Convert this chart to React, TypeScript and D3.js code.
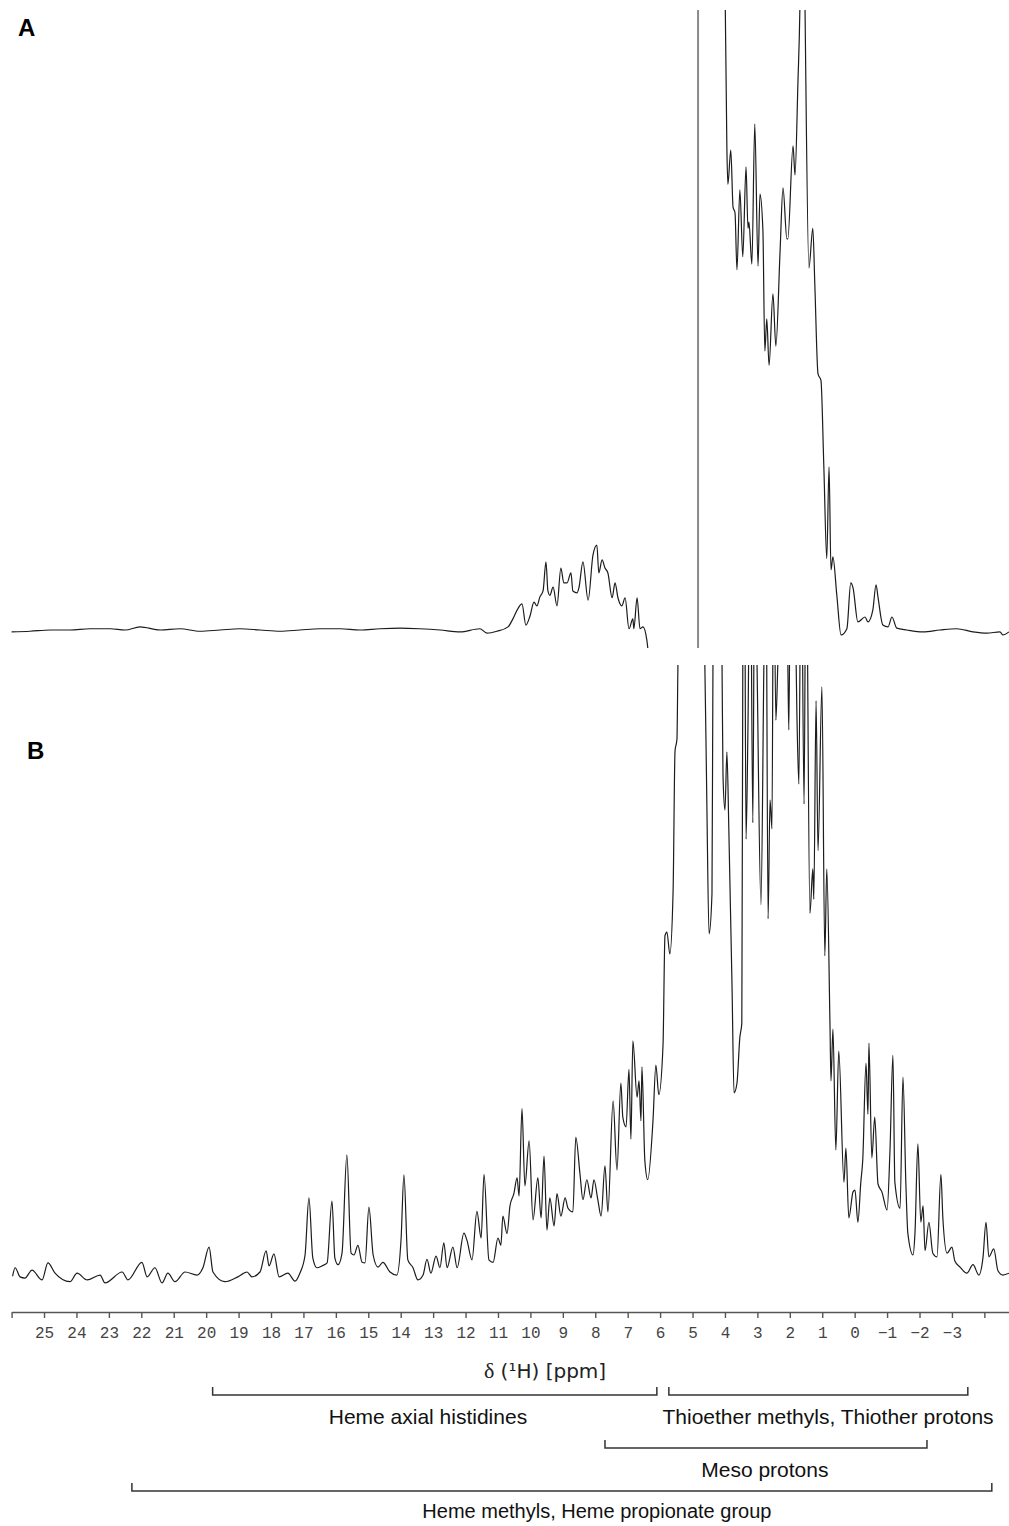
import React, { useRef, useEffect } from 'react';
import * as d3 from 'd3';

type Pt = [number, number]; // [ppm, intensity (a.u., 100 = top of panel)]

// Spectrum A, low-field side of the suppressed water line
const specALow: Pt[] = [
  [26.0, -0.3], [25.43, -0.2], [24.81, 0], [24.2, 0], [23.58, 0.2], [22.96, 0.2], [22.5, 0],
  [22.04, 0.5], [21.42, 0], [20.81, 0.2], [20.19, -0.2], [19.57, 0], [18.96, 0.2], [18.34, 0],
  [17.72, -0.2], [17.11, 0], [16.49, 0.2], [15.87, 0.2], [15.26, 0], [14.64, 0.2], [14.02, 0.3],
  [13.41, 0.2], [12.79, 0], [12.17, -0.3], [11.56, 0.2], [11.34, -0.5], [11.03, -0.2], [10.69, 0.5],
  [10.54, 1.8], [10.38, 3.5], [10.26, 4.2], [10.14, 0.8], [10.01, 2.3], [9.89, 4.5], [9.8, 3.9],
  [9.71, 5.3], [9.61, 6.3], [9.52, 11.0], [9.46, 6.3], [9.4, 5.6], [9.3, 6.9], [9.18, 3.9],
  [9.06, 10.0], [8.97, 7.6], [8.87, 7.6], [8.75, 9.2], [8.69, 6.3], [8.56, 6.0], [8.5, 6.9],
  [8.38, 11.0], [8.22, 4.8], [8.07, 12.1], [7.95, 13.7], [7.89, 9.2], [7.79, 11.3], [7.7, 10.0],
  [7.61, 9.2], [7.48, 5.2], [7.39, 7.6], [7.3, 5.2], [7.18, 3.9], [7.08, 5.2], [6.96, 0.2],
  [6.84, 1.8], [6.81, 0.2], [6.71, 5.2], [6.62, 0.2], [6.53, 0.5], [6.41, -1.6], [6.38, -2.9],
];

// Spectrum A, high-field side
const specAHigh: Pt[] = [
  [4.0, 105], [3.94, 77.4], [3.91, 71.9], [3.82, 77.4], [3.75, 68.2], [3.69, 67.3], [3.63, 58.1],
  [3.54, 71.0], [3.45, 60.2], [3.35, 74.7], [3.29, 64.8], [3.26, 65.8], [3.17, 59.0], [3.08, 81.6],
  [2.98, 58.7], [2.92, 70.3], [2.83, 64.5], [2.77, 45.0], [2.71, 50.2], [2.64, 42.7], [2.52, 54.2],
  [2.43, 45.8], [2.3, 61.1], [2.21, 71.3], [2.09, 63.1], [2.06, 63.1], [1.9, 78.1], [1.84, 73.4],
  [1.75, 88.2], [1.69, 100], [1.61, 140], [1.53, 100], [1.41, 58.4], [1.29, 64.8], [1.23, 56.0],
  [1.13, 41.3], [1.04, 40.3], [0.95, 26.3], [0.86, 11.5], [0.79, 26.3], [0.73, 9.7], [0.67, 11.8],
  [0.55, 5.6], [0.42, -0.8], [0.24, 0.2], [0.12, 7.6], [0.05, 6.8], [-0.1, 1.3], [-0.32, 2.1],
  [-0.41, 1.3], [-0.56, 3.2], [-0.66, 7.3], [-0.72, 5.3], [-0.87, 0.8], [-1.03, 0.5], [-1.15, 2.1],
  [-1.3, 0.3], [-1.61, 0], [-2.11, -0.3], [-2.63, 0], [-3.15, 0.2], [-3.65, -0.3], [-4.08, -0.5],
  [-4.48, -0.3], [-4.57, -0.8], [-4.76, -0.3],
];

// residual water line in A
const waterPpm = 4.83;
const waterRange: [number, number] = [-2.9, 100];

// Spectrum B
const specB: Pt[] = [
  [25.97, -0.7], [25.89, 0.7], [25.74, -0.8], [25.59, -1.0], [25.37, 0.3], [25.06, -1.3], [24.88, 1.5],
  [24.66, -0.2], [24.2, -1.6], [23.98, -0.2], [23.67, -1.3], [23.27, -0.5], [23.12, -1.8], [22.59, 0],
  [22.41, -1.3], [21.98, 1.6], [21.82, -0.8], [21.58, 0.7], [21.36, -1.8], [21.18, -0.2], [20.96, -1.6],
  [20.65, 0], [20.28, -0.5], [20.1, 0.7], [19.91, 4.1], [19.79, 0], [19.42, -1.6], [19.02, -0.8],
  [18.74, 0], [18.59, -0.8], [18.34, 0], [18.15, 3.5], [18.06, 1.0], [17.91, 3.0], [17.75, -0.8],
  [17.48, -0.2], [17.26, -1.5], [17.11, -0.2], [16.95, 2.8], [16.83, 12.2], [16.71, 2.3], [16.58, 0.7],
  [16.43, 1.0], [16.27, 1.5], [16.12, 11.7], [16.03, 2.3], [15.93, 1.2], [15.81, 3.1], [15.66, 19.3],
  [15.53, 3.1], [15.44, 2.8], [15.32, 4.4], [15.19, 1.6], [15.1, 1.5], [14.98, 10.7], [14.85, 2.8],
  [14.7, 0.8], [14.55, 1.6], [14.33, 0], [14.12, -0.5], [13.99, 5.3], [13.9, 16.0], [13.78, 2.0],
  [13.62, 0.7], [13.47, -1.3], [13.31, -0.5], [13.19, 2.1], [13.07, -0.2], [12.91, 2.6], [12.79, 0.7],
  [12.67, 4.8], [12.57, 0.7], [12.39, 4.1], [12.26, 0.7], [12.05, 6.4], [11.96, 5.3], [11.8, 2.0],
  [11.65, 10.0], [11.52, 5.6], [11.43, 16.1], [11.28, 2.0], [11.15, 1.6], [11.0, 5.6], [10.91, 4.4],
  [10.85, 9.2], [10.72, 6.3], [10.63, 10.9], [10.51, 12.9], [10.41, 15.5], [10.35, 12.5], [10.26, 26.9],
  [10.17, 14.2], [10.04, 21.6], [9.92, 8.6], [9.77, 15.5], [9.67, 8.9], [9.58, 19.1], [9.49, 6.9],
  [9.4, 12.2], [9.27, 7.6], [9.18, 12.9], [9.06, 9.2], [8.93, 12.2], [8.84, 10.5], [8.69, 9.9],
  [8.6, 22.2], [8.47, 16.1], [8.38, 11.9], [8.26, 15.2], [8.13, 12.2], [8.04, 15.2], [7.92, 11.9],
  [7.82, 9.2], [7.7, 17.5], [7.61, 9.9], [7.45, 28.2], [7.33, 16.8], [7.21, 31.1], [7.15, 25.5],
  [7.05, 23.9], [6.96, 33.4], [6.9, 21.9], [6.84, 38.1], [6.71, 28.8], [6.65, 31.5], [6.59, 24.9],
  [6.56, 33.8], [6.47, 18.3], [6.38, 15.2], [6.22, 24.9], [6.13, 34.1], [6.04, 29.2], [5.91, 37.4],
  [5.85, 55.4], [5.79, 56.0], [5.7, 52.4], [5.6, 62.6], [5.54, 85.8], [5.48, 87.8], [5.45, 100],
  [5.08, 160], [4.62, 100], [4.56, 77.8], [4.49, 55.7], [4.4, 62.3], [4.37, 100], [4.22, 140],
  [4.09, 100], [4.06, 81.7], [4.0, 76.1], [3.94, 85.7], [3.88, 72.8], [3.78, 46.5], [3.72, 29.5],
  [3.63, 31.1], [3.54, 38.7], [3.48, 41.0], [3.45, 100], [3.4, 125], [3.35, 71.3], [3.29, 90.0],
  [3.22, 125], [3.14, 74.0], [3.08, 125], [3.01, 100], [2.89, 60.5], [2.8, 100], [2.74, 125],
  [2.67, 58.2], [2.61, 77.8], [2.55, 73.0], [2.5, 125], [2.43, 90.9], [2.37, 100], [2.21, 130],
  [2.06, 100], [2.03, 89.3], [1.97, 125], [1.85, 115], [1.78, 91.6], [1.72, 80.4], [1.65, 125],
  [1.56, 77.1], [1.5, 125], [1.38, 59.1], [1.29, 66.4], [1.26, 61.4], [1.19, 94.1], [1.13, 69.4],
  [1.01, 96.4], [0.92, 52.1], [0.86, 66.4], [0.76, 40.4], [0.73, 31.5], [0.67, 40.0], [0.58, 20.1],
  [0.49, 36.4], [0.33, 14.8], [0.27, 20.4], [0.18, 8.9], [0.05, 13.2], [-0.01, 13.5], [-0.1, 8.2],
  [-0.19, 14.8], [-0.25, 18.5], [-0.35, 34.4], [-0.41, 26.0], [-0.44, 37.7], [-0.53, 18.8], [-0.62, 25.5],
  [-0.72, 14.5], [-0.84, 13.2], [-1.0, 10.2], [-1.09, 20.1], [-1.18, 35.7], [-1.24, 14.8], [-1.4, 10.5],
  [-1.49, 32.1], [-1.58, 14.5], [-1.64, 6.4], [-1.8, 2.8], [-1.86, 6.4], [-1.95, 21.1], [-2.04, 8.2],
  [-2.11, 10.9], [-2.17, 3.5], [-2.29, 8.2], [-2.41, 3.1], [-2.54, 2.5], [-2.66, 16.1], [-2.72, 8.9],
  [-2.85, 3.1], [-3.0, 4.1], [-3.09, 1.8], [-3.25, 0.8], [-3.46, -0.2], [-3.65, 1.2], [-3.83, -0.5],
  [-3.96, 2.5], [-4.05, 8.2], [-4.14, 2.5], [-4.29, 3.8], [-4.42, 0.2], [-4.57, -0.5], [-4.76, -0.2],
];

// chemical shift axis
const axisTicks = [26, 25, 24, 23, 22, 21, 20, 19, 18, 17, 16, 15, 14, 13, 12, 11, 10, 9, 8, 7, 6, 5, 4, 3, 2, 1, 0, -1, -2, -3, -4];
const labelledTicks = [25, 24, 23, 22, 21, 20, 19, 18, 17, 16, 15, 14, 13, 12, 11, 10, 9, 8, 7, 6, 5, 4, 3, 2, 1, 0, -1, -2, -3];

// assignment ranges (ppm) under the axis
const assignLabels = ['Heme axial histidines', 'Thioether methyls, Thiother protons', 'Meso protons', 'Heme methyls, Heme propionate group'];
const assignFrom = [19.8, 5.73, 7.7, 22.29];
const assignTo = [6.1, -3.49, -2.23, -4.23];
const assignLabelAt = [13.16, 0.82, 2.77, 7.95];
const assignRow = [0, 0, 1, 2];
const assignFontSize = [21, 21, 21, 20];

const App = () => {
  const W = 1009;
  const H = 1526;
  const axisRef = useRef<SVGGElement>(null);

  const x = d3.scaleLinear().domain([26, -4.76]).range([11.6, 1009]);
  const yA = d3.scaleLinear().domain([0, 100]).range([630, 10]);
  const yB = d3.scaleLinear().domain([0, 100]).range([1272, 665]);

  const lineA = d3.line<Pt>().x(d => x(d[0])).y(d => yA(d[1])).curve(d3.curveMonotoneX);
  const lineB = d3.line<Pt>().x(d => x(d[0])).y(d => yB(d[1])).curve(d3.curveMonotoneX);

  const axisY = 1312;
  const rowBracketY = [1395, 1448, 1491];
  const rowLabelY = [1424, 1477, 1518];

  useEffect(() => {
    if (!axisRef.current) return;
    const g = d3.select(axisRef.current);
    g.selectAll('*').remove();
    const fmt = (v: number) => (labelledTicks.includes(v) ? String(v).replace('-', '\u2212') : '');
    g.call(
      d3.axisBottom(x)
        .tickValues(axisTicks)
        .tickSize(6)
        .tickSizeOuter(0)
        .tickPadding(9)
        .tickFormat(d => fmt(+d))
    );
    g.attr('font-family', '"Liberation Mono", "DejaVu Sans Mono", monospace').attr('font-size', 16);
    g.select('.domain').attr('stroke', '#555').attr('stroke-width', 1.6);
    g.selectAll('.tick line').attr('stroke', '#555').attr('stroke-width', 1.4);
    g.selectAll('.tick text').attr('fill', '#444');
  }, []);

  const stroke = '#1c1c1c';

  return (
    <svg width={W} height={H} style={{ position: 'absolute', left: 0, top: 0, background: '#fff' }}>
      <defs>
        <clipPath id="clipA">
          <rect x={0} y={yA(100)} width={W} height={660 - yA(100)} />
        </clipPath>
        <clipPath id="clipB">
          <rect x={0} y={yB(100)} width={W} height={1300 - yB(100)} />
        </clipPath>
      </defs>

      <text x={18} y={36} fontFamily='"Liberation Sans", Arial, sans-serif' fontWeight="bold" fontSize={24}>A</text>
      <text x={27} y={759} fontFamily='"Liberation Sans", Arial, sans-serif' fontWeight="bold" fontSize={24}>B</text>

      <g clipPath="url(#clipA)" fill="none" stroke={stroke} strokeWidth={1.2} strokeLinejoin="round">
        <path d={lineA(specALow) || ''} />
        <path d={lineA(specAHigh) || ''} />
        <line x1={x(waterPpm)} x2={x(waterPpm)} y1={yA(waterRange[0])} y2={yA(waterRange[1])} stroke="#8a8a8a" strokeWidth={2} />
      </g>

      <g clipPath="url(#clipB)" fill="none" stroke={stroke} strokeWidth={1.2} strokeLinejoin="round">
        <path d={lineB(specB) || ''} />
      </g>

      <g ref={axisRef} transform={`translate(0,${axisY})`} />

      <text x={545} y={1378} textAnchor="middle" fontSize={20} fill="#222">
        <tspan fontFamily='"Liberation Serif", "DejaVu Serif", serif' fontSize={22}>δ</tspan>
        <tspan fontFamily='"DejaVu Sans", sans-serif'> (¹H) [ppm]</tspan>
      </text>

      {assignLabels.map((label, i) => {
        const by = rowBracketY[assignRow[i]];
        const x0 = x(assignFrom[i]);
        const x1 = x(assignTo[i]);
        return (
          <g key={label}>
            <path d={`M${x0},${by - 8}V${by}H${x1}V${by - 8}`} fill="none" stroke="#333" strokeWidth={1.5} />
            <text x={x(assignLabelAt[i])} y={rowLabelY[assignRow[i]]} textAnchor="middle"
              fontFamily='"Liberation Sans", Arial, sans-serif' fontSize={assignFontSize[i]} fill="#111">{label}</text>
          </g>
        );
      })}
    </svg>
  );
};

export default App;
